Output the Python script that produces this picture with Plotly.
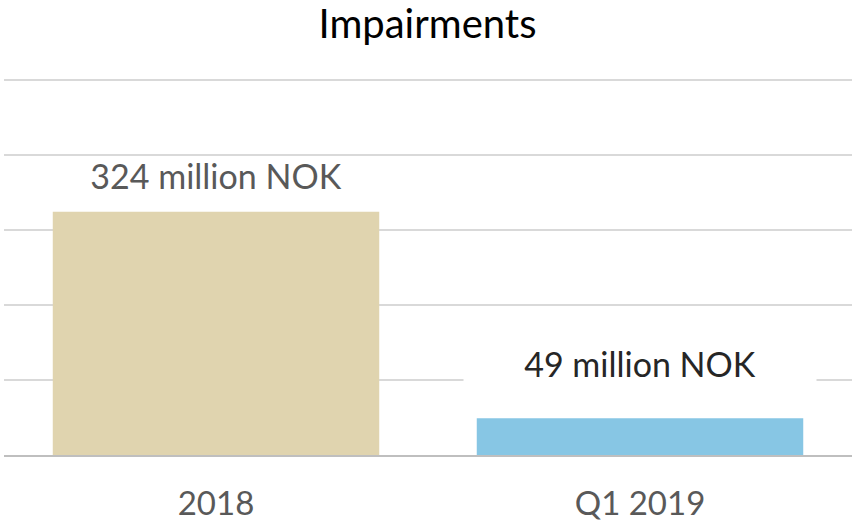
import plotly.graph_objects as go

# 减值数据（百万挪威克朗）
categories = ["2018", "Q1 2019"]
values = [324, 49]
labels = ["324 million NOK", "49 million NOK"]

_BAR_COLORS = ["#E0D4AF", "#87C6E4"]
_LABEL_COLORS = ["#595959", "#262626"]
_FONT = "Lato, 'Open Sans', sans-serif"

fig = go.Figure(
    go.Bar(
        x=categories,
        y=values,
        marker=dict(color=_BAR_COLORS, line=dict(width=0)),
        hoverinfo="skip",
    )
)

# 数据标签：第二个标签白底，遮住背后的网格线
# 注意："2018" 在类别轴上会被当成索引，所以注释用类别序号定位
shifts = [37, 55]
label_bg = ["rgba(0,0,0,0)", "white"]
for idx, (val, text, color, shift, bg) in enumerate(
    zip(values, labels, _LABEL_COLORS, shifts, label_bg)
):
    fig.add_annotation(
        x=idx, y=val, text=text, showarrow=False,
        yanchor="middle", yshift=shift,
        width=350, height=46, bgcolor=bg,
        font=dict(family=_FONT, size=34, color=color),
    )

fig.update_layout(
    width=855, height=522,
    paper_bgcolor="white", plot_bgcolor="white",
    title=dict(
        text="Impairments", x=0.5, xanchor="center", y=0.954, yanchor="middle",
        font=dict(family=_FONT, size=40, color="#000000"),
    ),
    bargap=0.23,
    showlegend=False,
    margin=dict(t=76, b=67, l=4, r=3),
    xaxis=dict(
        type="category", categoryorder="array", categoryarray=categories,
        range=[-0.5, len(categories) - 0.5],
        showgrid=False, showline=True, linecolor="#BFBFBF", linewidth=2,
        tickfont=dict(family=_FONT, size=33, color="#595959"),
        ticks="outside", ticklen=18, tickcolor="rgba(0,0,0,0)",
        automargin=False,
    ),
    yaxis=dict(
        range=[0, 505], dtick=100, showticklabels=False,
        gridcolor="#D9D9D9", gridwidth=2, zeroline=False,
        automargin=False,
    ),
)

# 去掉页面默认的 8px 边距，让图贴住窗口左上角
fig.write_html(
    "out.html",
    config={"displayModeBar": False},
    post_script="document.body.style.margin='0';",
)
